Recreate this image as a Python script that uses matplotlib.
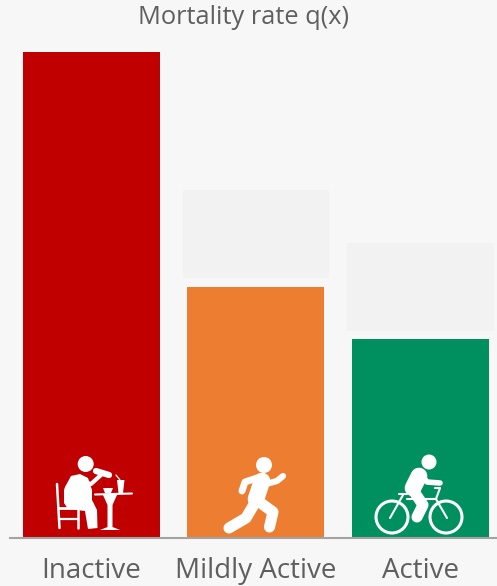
import matplotlib.pyplot as plt
from matplotlib.patches import Circle

categories = ['Inactive', 'Mildly Active', 'Active']
mortality = [1.0, 0.516, 0.409]
bar_colors = ['#c00000', '#ed7d31', '#00905f']
# pale boxes floating above the two shorter bars
box_bottom = [0.535, 0.426]
box_top = [0.716, 0.607]
box_pos = [1, 2]

W, H = 497, 586
BG = '#f7f7f7'
TXT = '#5f5f5f'

plt.rcParams['font.family'] = ['Open Sans', 'DejaVu Sans']

fig = plt.figure(figsize=(W / 100, H / 100), dpi=100, facecolor=BG)
ax = fig.add_axes([10 / W, (H - 538) / H, 487 / W, 486 / H], facecolor=BG)

ax.bar(range(3), mortality, width=0.833, color=bar_colors)
ax.bar(box_pos, [t - b for t, b in zip(box_top, box_bottom)], bottom=box_bottom,
       width=0.888, color='#f2f2f2')

ax.set_xlim(-0.495, 2.465)
ax.set_ylim(0, 1)
ax.set_yticks([])
ax.set_xticks(range(3))
ax.set_xticklabels(categories, fontsize=20, color=TXT)
ax.tick_params(axis='x', length=0, pad=13.5)
for s in ['top', 'left', 'right']:
    ax.spines[s].set_visible(False)
ax.spines['bottom'].set_color('#a3a3a3')
ax.spines['bottom'].set_linewidth(1.5)
fig.text(243.5 / W, 1 - 18 / H, 'Mortality rate q(x)', fontsize=18.3, color=TXT,
         ha='center', va='center')

# overlay in pixel coords for the white icons
ov = fig.add_axes([0, 0, 1, 1])
ov.set_xlim(0, W)
ov.set_ylim(H, 0)
ov.axis('off')


def stroke(xs, ys, lw):
    ov.plot(xs, ys, color='white', lw=lw, solid_capstyle='round', solid_joinstyle='round')


def disc(x, y, r):
    ov.add_patch(Circle((x, y), r, color='white', lw=0))


def ring(x, y, r, lw):
    ov.add_patch(Circle((x, y), r, fill=False, ec='white', lw=lw))


# person at table
disc(85.7, 464, 8)
ov.fill([65, 71, 80, 88, 92, 92, 97, 97.5, 88, 85, 68, 64, 64],
        [487, 476, 474, 478, 490, 500, 510, 528, 529, 511, 509, 503, 490],
        color='white', lw=0)
stroke([78, 91, 101], [480, 484, 475], 3)
stroke([96, 109], [471, 475], 4.5)
stroke([57, 59.5], [484, 528], 1.8)
stroke([59, 80], [508, 508], 2.0)
stroke([60, 78], [519, 519], 1.6)
stroke([78, 78], [510, 528], 1.8)
stroke([95, 132], [494.5, 493.5], 1.5)
ov.fill([103, 117, 112.5, 112.5, 120, 100, 107.5, 107.5],
        [495, 495, 505, 527, 530, 530, 527, 505], color='white', lw=0)
ov.fill([103, 113, 111, 105], [488, 488, 493, 493], color='white', lw=0)
ov.fill([117, 124.5, 123, 118.5], [480, 480, 493, 493], color='white', lw=0)
stroke([116, 120], [475, 480], 0.9)

# runner
disc(264, 465, 8)
stroke([262, 256], [481, 499], 12)
stroke([257, 245, 242], [478, 482, 491], 5)
stroke([266, 277, 283], [484, 481, 476], 4.5)
stroke([256, 246, 229], [501, 518, 528], 8)
stroke([258, 273, 269.5], [501, 512, 527], 8)

# cyclist
disc(429, 462, 7.5)
stroke([419, 413], [476, 488], 12)
stroke([420, 427, 440], [473, 482, 483], 4)
stroke([413, 423, 417], [490, 505, 517], 8)
ring(392, 517, 16, 2.2)
ring(446, 517, 16, 2.2)
stroke([399, 407], [494, 494], 1.5)
stroke([403, 390], [495, 518], 1.5)
stroke([407, 436], [499, 499], 1.5)
stroke([435, 440, 436, 447], [488, 488, 499, 518], 1.5)

fig.savefig('out.png', dpi=100, facecolor=BG)
